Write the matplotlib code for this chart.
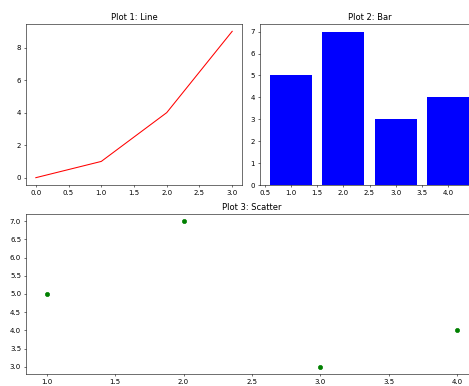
import matplotlib
matplotlib.use('Agg')
import matplotlib.pyplot as plt

x = [0, 1, 2, 3]
y = [0, 1, 4, 9]
bar_x = [1, 2, 3, 4]
bar_h = [5, 7, 3, 4]
sc_x = [1, 2, 3, 4]
sc_y = [5, 7, 3, 4]

W, H = 469, 386
fig = plt.figure(figsize=(W / 50, H / 50), dpi=50)


def box(x0, y0, x1, y1):
    # pixel box (top-left origin) -> figure fraction rect
    return [x0 / W, (H - y1) / H, (x1 - x0) / W, (y1 - y0) / H]


ax1 = fig.add_axes(box(26, 24, 242, 185))
ax1.plot(x, y, color='red')
ax1.set_title('Plot 1: Line')

ax2 = fig.add_axes(box(260, 24, 479, 185))
ax2.bar(bar_x, bar_h, color='blue')
ax2.set_title('Plot 2: Bar')

ax3 = fig.add_axes(box(26, 214, 478, 374))
ax3.scatter(sc_x, sc_y, color='green')
ax3.set_title('Plot 3: Scatter')

fig.savefig('out.png', dpi=50)
